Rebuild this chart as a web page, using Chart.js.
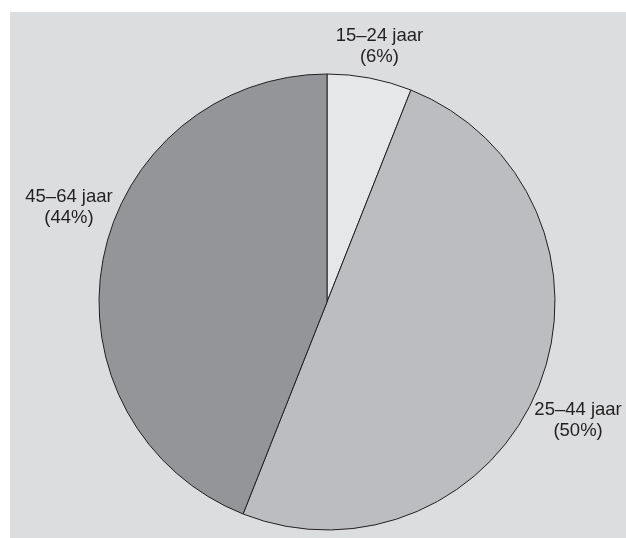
<!DOCTYPE html>
<html>
<head>
<meta charset="utf-8">
<script src="https://cdn.jsdelivr.net/npm/chart.js@4/dist/chart.umd.min.js"></script>
<style>
  body { margin: 0; background: #ffffff; }
  #panel {
    position: absolute; left: 10px; top: 12px;
    width: 616px; height: 526px;
    background: #dcdddf;
  }
</style>
</head>
<body>
<div id="panel"><canvas id="myChart" width="616" height="526"></canvas></div>
<script>
var labels = ['15–24 jaar', '25–44 jaar', '45–64 jaar'];
var values = [6, 50, 44];
var colors = ['#e6e7e9', '#bcbdc0', '#939598'];

// where each label sits: angle from top (clockwise, degrees), distance in radii
var labelPlace = [
    { angle: 11.6, dist: 1.144 },
    { angle: 115.2, dist: 1.217 },
    { angle: -69.9, dist: 1.205 }
];

var labelPlugin = {
    id: 'sliceLabels',
    afterDraw: function(chart) {
        var ctx = chart.ctx;
        var arc = chart.getDatasetMeta(0).data[0];
        var cx = arc.x, cy = arc.y, r = arc.outerRadius;
        ctx.save();
        ctx.fillStyle = '#231f20';
        ctx.font = '18.5px "Liberation Sans", Arial, sans-serif';
        ctx.textAlign = 'center';
        ctx.textBaseline = 'middle';
        for (var i = 0; i < labels.length; i++) {
            var a = labelPlace[i].angle * Math.PI / 180;
            var x = cx + Math.sin(a) * r * labelPlace[i].dist;
            var y = cy - Math.cos(a) * r * labelPlace[i].dist;
            ctx.fillText(labels[i], x, y - 10.5);
            ctx.fillText('(' + values[i] + '%)', x, y + 10.5);
        }
        ctx.restore();
    }
};

const myChart = new Chart(document.getElementById('myChart'), {
    type: 'pie',
    data: {
        labels: labels,
        datasets: [{
            data: values,
            backgroundColor: colors,
            borderColor: '#231f20',
            borderWidth: 1
        }]
    },
    options: {
        responsive: false,
        animation: false,
        layout: { padding: { left: 88.5, right: 70.5, top: 61.5, bottom: 7.5 } },
        plugins: {
            legend: { display: false },
            tooltip: { enabled: false }
        }
    },
    plugins: [labelPlugin]
});
</script>
</body>
</html>
